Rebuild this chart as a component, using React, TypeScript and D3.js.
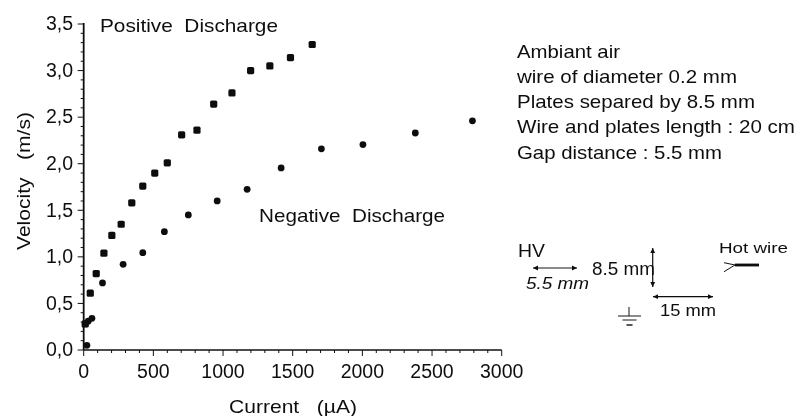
import React, { useMemo } from "react";
import * as d3 from "d3";

const positiveCurrent = [11, 47, 90, 145, 202, 269, 345, 424, 510, 600, 703, 813, 933, 1064, 1198, 1336, 1484, 1640];
const positiveVelocity = [0.28, 0.61, 0.82, 1.04, 1.23, 1.35, 1.58, 1.76, 1.9, 2.01, 2.31, 2.36, 2.64, 2.76, 3.0, 3.05, 3.14, 3.28];
const negativeCurrent = [23, 11, 32, 59, 135, 283, 424, 579, 751, 958, 1173, 1417, 1706, 2004, 2380, 2790];
const negativeVelocity = [0.05, 0.28, 0.31, 0.34, 0.72, 0.92, 1.045, 1.27, 1.45, 1.6, 1.725, 1.955, 2.16, 2.205, 2.33, 2.46];
const xTicks = [0, 500, 1000, 1500, 2000, 2500, 3000];
const yTicks = [0, 0.5, 1, 1.5, 2, 2.5, 3, 3.5];
const xMinor = d3.range(0, 3001, 100);
const yMinor = d3.range(0, 36).map((d) => d / 10);
const notes = [
  "Ambiant air",
  "wire of diameter 0.2 mm",
  "Plates separed by 8.5 mm",
  "Wire and plates length : 20 cm",
  "Gap distance : 5.5 mm",
];
const noteWidths = [103, 220, 238, 278, 205];

const FONT = "'Liberation Sans', Arial, sans-serif";
const INK = "#111";

function T({ x, y, w, size, italic, children, transform }: any) {
  return (
    <text
      x={x}
      y={y}
      transform={transform}
      textLength={w}
      lengthAdjust="spacingAndGlyphs"
      style={{ fontFamily: FONT, fontSize: size, fill: INK, fontStyle: italic ? "italic" : "normal", whiteSpace: "pre" }}
    >
      {children}
    </text>
  );
}

function Arrow({ x1, y1, x2, y2 }: { x1: number; y1: number; x2: number; y2: number }) {
  const a = Math.atan2(y2 - y1, x2 - x1);
  const head = (x: number, y: number, t: number) => {
    const l = 5, w = 2.4;
    const bx = x - Math.cos(t) * l, by = y - Math.sin(t) * l;
    const nx = -Math.sin(t) * w, ny = Math.cos(t) * w;
    return `${x},${y} ${bx + nx},${by + ny} ${bx - nx},${by - ny}`;
  };
  return (
    <g>
      <line x1={x1} y1={y1} x2={x2} y2={y2} stroke={INK} strokeWidth={1.2} />
      <polygon points={head(x2, y2, a)} fill={INK} />
      <polygon points={head(x1, y1, a + Math.PI)} fill={INK} />
    </g>
  );
}

export default function App() {
  const x = useMemo(() => d3.scaleLinear().domain([0, 3000]).range([83.7, 501.7]), []);
  const y = useMemo(() => d3.scaleLinear().domain([0, 3.5]).range([350, 24]), []);
  const pos = positiveCurrent.map((c, i) => [x(c), y(positiveVelocity[i])]);
  const neg = negativeCurrent.map((c, i) => [x(c), y(negativeVelocity[i])]);
  const tickStyle = { fontFamily: FONT, fontSize: 19.5, fill: INK } as const;
  return (
    <svg width={797} height={416} style={{ position: "absolute", left: 0, top: 0, background: "#fff" }}>
      <defs>
        <filter id="soft" x="0" y="0" width="100%" height="100%">
          <feGaussianBlur stdDeviation="0.35" />
        </filter>
      </defs>
      <g filter="url(#soft)">
        <line x1={x(0)} x2={x(3000)} y1={y(0)} y2={y(0)} stroke={INK} strokeWidth={1.3} />
        <line x1={x(0)} x2={x(0)} y1={y(0)} y2={y(3.5) - 1} stroke={INK} strokeWidth={1.8} />
        {xMinor.map((v) => (
          <line key={v} x1={x(v)} x2={x(v)} y1={y(0)} y2={y(0) + (v % 500 === 0 ? 6 : 3)} stroke={INK} strokeWidth={1} />
        ))}
        {yMinor.map((v, i) => (
          <line key={v} x1={x(0)} x2={x(0) - (i % 5 === 0 ? 6 : 3)} y1={y(v)} y2={y(v)} stroke={INK} strokeWidth={1} />
        ))}
        {xTicks.map((v) => (
          <text key={v} x={x(v)} y={378} textAnchor="middle" style={tickStyle}>{v}</text>
        ))}
        {yTicks.map((v) => (
          <text key={v} x={73} y={y(v) + 6.3} textAnchor="end" style={tickStyle}>{v.toFixed(1).replace(".", ",")}</text>
        ))}
        <T x={229} y={412.7} w={128} size={18.5}>{"Current   (µA)"}</T>
        <T transform="translate(30,250) rotate(-90)" x={0} y={0} w={138} size={18.5}>{"Velocity   (m/s)"}</T>
        <T x={100} y={32.3} w={178} size={19}>{"Positive  Discharge"}</T>
        <T x={259} y={221.7} w={186} size={18.5}>{"Negative  Discharge"}</T>

        {pos.map(([cx, cy], i) => (
          <rect key={i} x={cx - 3.6} y={cy - 3.6} width={7.2} height={7.2} rx={1.6} fill={INK} />
        ))}
        {neg.map(([cx, cy], i) => (
          <circle key={i} cx={cx} cy={cy} r={3.4} fill={INK} />
        ))}

        {notes.map((t, i) => (
          <T key={t} x={517} y={57.7 + i * 25.2} w={noteWidths[i]} size={18.5}>{t}</T>
        ))}

        <T x={518} y={256.7} w={27} size={18}>HV</T>
        <Arrow x1={533} y1={268} x2={577} y2={268} />
        <T x={526} y={289} w={63} size={17} italic>5.5 mm</T>
        <T x={592} y={275} w={63} size={17.5}>8.5 mm</T>
        <Arrow x1={652.7} y1={248} x2={652.7} y2={287} />
        <Arrow x1={653} y1={296.7} x2={713} y2={296.7} />
        <T x={660} y={316} w={56} size={17}>15 mm</T>
        <T x={719} y={252.7} w={69} size={15.5}>Hot wire</T>
        <path d="M724 262.7 L735 265 L724 271.7" fill="none" stroke={INK} strokeWidth={1} />
        <line x1={735} x2={759} y1={265} y2={265} stroke={INK} strokeWidth={2.8} />
        <g stroke={INK}>
          <line x1={629} x2={629} y1={307} y2={316} strokeWidth={1} />
          <line x1={618} x2={641} y1={316} y2={316} strokeWidth={1} />
          <line x1={622.5} x2={636.5} y1={320} y2={320} strokeWidth={1} />
          <line x1={626.5} x2={632.5} y1={325} y2={325} strokeWidth={1.4} />
        </g>
      </g>
    </svg>
  );
}
